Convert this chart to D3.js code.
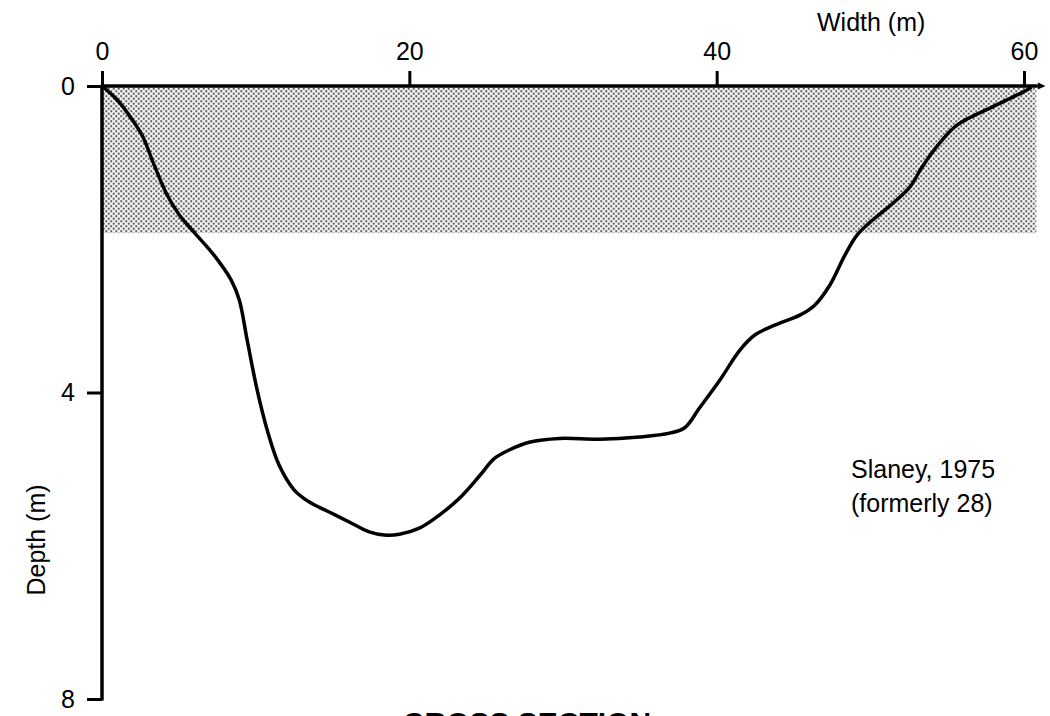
<!DOCTYPE html>
<html>
<head>
<meta charset="utf-8">
<script src="https://cdn.jsdelivr.net/npm/d3@7"></script>
<style>
  html, body { margin: 0; padding: 0; background: #fff; }
  svg { display: block; font-family: "Liberation Sans", Arial, Helvetica, sans-serif; }
</style>
</head>
<body>
<svg id="chart" width="1050" height="716"></svg>
<script>
// ---- data ----
const widthTicks = [0, 20, 40, 60];
const depthTicks = [0, 4, 8];
const profileWidth = [0, 0.98, 1.76, 2.6, 3.39, 4.23, 5.02, 6.0, 7.3, 8.4, 8.93, 9.45, 10.1, 10.75, 11.53, 12.5, 13.49, 14.79, 16.09, 17.39, 18.37, 19.35, 20.65, 21.95, 23.26, 24.56, 25.54, 26.5, 27.8, 29.77, 32.38, 34.98, 36.94, 37.92, 38.89, 40.2, 41.5, 42.48, 43.78, 45.41, 46.38, 47.36, 48.34, 49.12, 49.97, 51.47, 52.57, 53.36, 54.53, 55.64, 57.98, 59.93, 60.4];
const profileDepth = [0, 0.18, 0.38, 0.64, 1.03, 1.42, 1.68, 1.91, 2.21, 2.53, 2.79, 3.32, 3.97, 4.49, 4.95, 5.27, 5.43, 5.56, 5.69, 5.82, 5.86, 5.85, 5.77, 5.6, 5.38, 5.09, 4.86, 4.75, 4.65, 4.6, 4.61, 4.58, 4.53, 4.46, 4.2, 3.84, 3.45, 3.25, 3.12, 2.99, 2.86, 2.6, 2.21, 1.95, 1.78, 1.53, 1.32, 1.06, 0.74, 0.51, 0.27, 0.08, 0.03];
const shadedBand = { x0: 0, x1: 60.8, d0: 0, d1: 1.92 };
const xTitle = "Width (m)";
const yTitle = "Depth (m)";
const noteLines = ["Slaney, 1975", "(formerly 28)"];
const caption = "CROSS SECTION";

// ---- scales ----
const svg = d3.select("#chart");
const x = d3.scaleLinear().domain([0, 60]).range([102, 1024]);
const y = d3.scaleLinear().domain([0, 8]).range([86, 699]);

// pattern (stipple)
const defs = svg.append("defs");
const pat = defs.append("pattern").attr("id", "stipple")
  .attr("patternUnits", "userSpaceOnUse").attr("width", 5).attr("height", 5);
pat.append("rect").attr("width", 5).attr("height", 5).attr("fill", "#f2f2f2");
pat.append("circle").attr("cx", 1.25).attr("cy", 1.25).attr("r", 1.15).attr("fill", "#6a6a6a");
pat.append("circle").attr("cx", 3.75).attr("cy", 3.75).attr("r", 1.15).attr("fill", "#6a6a6a");

// shaded band
svg.append("rect")
  .attr("x", x(shadedBand.x0)).attr("y", y(shadedBand.d0))
  .attr("width", x(shadedBand.x1) - x(shadedBand.x0))
  .attr("height", y(shadedBand.d1) - y(shadedBand.d0))
  .attr("fill", "url(#stipple)");

// axes
const xAxis = d3.axisTop(x).tickValues(widthTicks).tickSize(15).tickSizeOuter(0).tickPadding(11);
const gx = svg.append("g").attr("transform", `translate(0,${y(0)})`).call(xAxis);
gx.select(".domain").remove();
gx.selectAll(".tick line").attr("stroke", "#000").attr("stroke-width", 3);
gx.selectAll(".tick text").attr("font-size", 25).attr("fill", "#000")
  .attr("font-family", "Liberation Sans, Arial, sans-serif");

const yAxis = d3.axisLeft(y).tickValues(depthTicks).tickSize(15).tickSizeOuter(0).tickPadding(12);
const gy = svg.append("g").attr("transform", `translate(${x(0)},0)`).call(yAxis);
gy.select(".domain").remove();
gy.selectAll(".tick line").attr("stroke", "#000").attr("stroke-width", 3);
gy.selectAll(".tick text").attr("font-size", 25).attr("fill", "#000")
  .attr("font-family", "Liberation Sans, Arial, sans-serif");

// axis lines
svg.append("line")
  .attr("x1", x(0)).attr("x2", x(60.9)).attr("y1", y(0)).attr("y2", y(0))
  .attr("stroke", "#000").attr("stroke-width", 3.5);
svg.append("line")
  .attr("x1", x(0)).attr("x2", x(0)).attr("y1", y(0)).attr("y2", y(8) + 1.5)
  .attr("stroke", "#000").attr("stroke-width", 3.5);
// arrow tip on x axis
svg.append("path")
  .attr("d", `M${x(60.9)},${y(0) - 3.5} L${x(61.4)},${y(0)} L${x(60.9)},${y(0) + 3.5} Z`)
  .attr("fill", "#000");

// profile curve
const pts = profileWidth.map((w, i) => [w, profileDepth[i]]);
const line = d3.line().x(d => x(d[0])).y(d => y(d[1])).curve(d3.curveCatmullRom.alpha(0.5));
svg.append("path").datum(pts).attr("d", line)
  .attr("fill", "none").attr("stroke", "#000").attr("stroke-width", 3.5)
  .attr("stroke-linejoin", "round").attr("stroke-linecap", "round");

// titles
svg.append("text").attr("x", 817).attr("y", 31).attr("font-size", 25).attr("fill", "#000").text(xTitle);
svg.append("text").attr("transform", "translate(45,540) rotate(-90)")
  .attr("text-anchor", "middle").attr("font-size", 25).attr("fill", "#000").text(yTitle);

// note
svg.append("g").selectAll("text").data(noteLines).join("text")
  .attr("x", 851).attr("y", (d, i) => 478 + i * 34)
  .attr("font-size", 25).attr("fill", "#000").text(d => d);

// caption (clipped at bottom)
svg.append("text").attr("x", 527).attr("y", 733).attr("text-anchor", "middle")
  .attr("font-size", 30).attr("font-weight", "bold").attr("fill", "#000").text(caption);
</script>
</body>
</html>
